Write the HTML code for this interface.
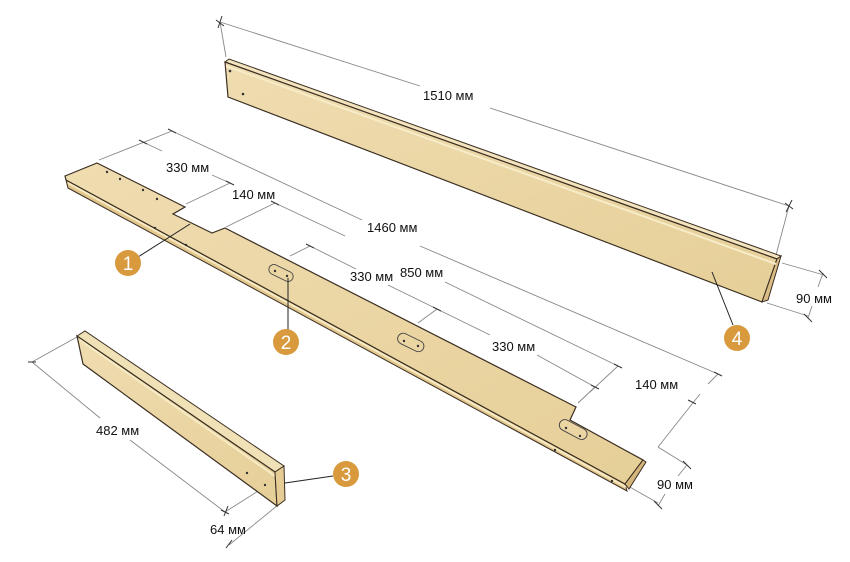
<!DOCTYPE html>
<html><head><meta charset="utf-8"><style>
html,body{margin:0;padding:0;background:#fff;width:850px;height:562px;overflow:hidden}
svg text{font-family:"Liberation Sans",Arial,sans-serif;font-size:13px;fill:#111}
</style></head><body>
<svg width="850" height="562" viewBox="0 0 850 562" xmlns="http://www.w3.org/2000/svg">
<defs>
<linearGradient id="w1" x1="0" y1="0" x2="1" y2="1"><stop offset="0" stop-color="#efdcb0"/><stop offset="1" stop-color="#e6cf98"/></linearGradient>
</defs>
<g stroke="#888" stroke-width="0.9" fill="none">
<line x1="220" y1="22" x2="226" y2="57"/>
<line x1="220" y1="22" x2="420" y2="86"/><line x1="490" y1="108" x2="789" y2="206"/>
<line x1="789" y1="206" x2="776" y2="255"/>
<line x1="782" y1="263" x2="824" y2="275"/><line x1="767" y1="303" x2="808" y2="316"/>
<line x1="823" y1="273" x2="818" y2="287"/><line x1="812" y1="306" x2="808" y2="318"/>
<line x1="99" y1="160" x2="172" y2="131"/>
<line x1="143" y1="142" x2="162" y2="151"/><line x1="212" y1="175" x2="230" y2="183"/>
<line x1="186" y1="204" x2="230" y2="183"/>
<line x1="226" y1="227" x2="275" y2="203"/>
<line x1="172" y1="131" x2="362" y2="220"/><line x1="420" y1="246" x2="718" y2="374"/>
<line x1="275" y1="203" x2="345" y2="236"/><line x1="445" y1="282" x2="618" y2="366"/>
<line x1="310" y1="246" x2="356" y2="269"/><line x1="290" y1="256" x2="310" y2="246"/>
<line x1="388" y1="285" x2="490" y2="335"/><line x1="537" y1="355" x2="595" y2="387"/>
<line x1="418" y1="323" x2="437" y2="309"/>
<line x1="595" y1="387" x2="578" y2="403"/><line x1="618" y1="366" x2="590" y2="392"/>
<line x1="718" y1="374" x2="708" y2="384"/><line x1="700" y1="394" x2="658" y2="447"/>
<line x1="658" y1="447" x2="687" y2="465"/>
<line x1="687" y1="465" x2="678" y2="476"/><line x1="665" y1="494" x2="658" y2="506"/>
<line x1="628" y1="486" x2="658" y2="503"/>
<line x1="32" y1="362" x2="77" y2="337"/>
<line x1="32" y1="362" x2="100" y2="418"/><line x1="130" y1="440" x2="225" y2="512"/>
<line x1="225" y1="512" x2="266" y2="486"/>
<line x1="229" y1="545" x2="278" y2="505"/>
</g>
<g stroke="#333" stroke-width="1">
<line x1="216" y1="20" x2="224" y2="26"/><line x1="218" y1="28" x2="222" y2="16"/>
<line x1="785" y1="203" x2="793" y2="209"/><line x1="786" y1="212" x2="792" y2="200"/>
<line x1="819" y1="270" x2="827" y2="278"/><line x1="804" y1="314" x2="812" y2="322"/>
<line x1="139" y1="140" x2="147" y2="144"/><line x1="168" y1="129" x2="176" y2="133"/>
<line x1="226" y1="181" x2="234" y2="185"/><line x1="271" y1="201" x2="279" y2="205"/>
<line x1="306" y1="244" x2="314" y2="248"/><line x1="433" y1="307" x2="441" y2="311"/>
<line x1="591" y1="385" x2="599" y2="389"/><line x1="614" y1="364" x2="622" y2="368"/>
<line x1="714" y1="372" x2="722" y2="376"/><line x1="688" y1="400" x2="696" y2="404"/>
<line x1="683" y1="461" x2="691" y2="469"/><line x1="654" y1="501" x2="662" y2="509"/>
<line x1="28" y1="362" x2="36" y2="362"/><line x1="221" y1="510" x2="229" y2="514"/>
<line x1="224" y1="516" x2="228" y2="506"/><line x1="226" y1="548" x2="232" y2="540"/>
</g>
<polygon points="225,62 229,59 781,256 777,259" fill="#f3e4bd" stroke="#3a2e22" stroke-width="1"/>
<polygon points="225,62 777,259 762,302 228,97" fill="url(#w1)" stroke="#3a2e22" stroke-width="1.2"/>
<polygon points="777,259 781,256 768,300 762,302" fill="#d9bd85" stroke="#3a2e22" stroke-width="1"/>
<line x1="226" y1="66" x2="776" y2="264" stroke="#f7ecc8" stroke-width="2"/>
<circle cx="230" cy="71" r="1.3" fill="#333"/><circle cx="243" cy="94" r="1.3" fill="#333"/>
<polygon points="66,180 625,484 627,491 68,188" fill="#e2c68d" stroke="#3a2e22" stroke-width="1"/>
<line x1="68" y1="183" x2="626" y2="487" stroke="#f7ebc4" stroke-width="2"/>
<polygon points="65,176 97,163 185,207 173,214 212,233 225,228 576,407 570,420 643,460 625,484 66,180" fill="url(#w1)" stroke="#3a2e22" stroke-width="1.2"/>
<polygon points="643,460 646,462 629,489 625,484" fill="#d4b57c" stroke="#3a2e22" stroke-width="1"/>
<rect x="268" y="268" width="26" height="10" rx="5" transform="rotate(26 281 273)" fill="#ead5a3" stroke="#444" stroke-width="0.9"/>
<rect x="397" y="337" width="28" height="11" rx="5.5" transform="rotate(26 411 342)" fill="#ead5a3" stroke="#444" stroke-width="0.9"/>
<rect x="558" y="424" width="30" height="11" rx="5.5" transform="rotate(28 573 430)" fill="#ead5a3" stroke="#444" stroke-width="0.9"/>
<g fill="#333"><circle cx="107" cy="172" r="1.2"/><circle cx="120" cy="179" r="1.2"/><circle cx="143" cy="190" r="1.2"/><circle cx="157" cy="199" r="1.2"/><circle cx="275" cy="271" r="1.2"/><circle cx="287" cy="276" r="1.2"/><circle cx="404" cy="341" r="1.2"/><circle cx="418" cy="346" r="1.2"/><circle cx="566" cy="428" r="1.2"/><circle cx="580" cy="436" r="1.2"/><circle cx="155" cy="228" r="1.2"/><circle cx="186" cy="245" r="1.2"/><circle cx="555" cy="450" r="1.2"/><circle cx="612" cy="481" r="1.2"/></g>
<polygon points="77,336 85,331 284,466 275,472" fill="#f1e1b6" stroke="#3a2e22" stroke-width="1"/>
<polygon points="77,336 275,472 277,506 83,364" fill="url(#w1)" stroke="#3a2e22" stroke-width="1.2"/>
<line x1="80" y1="340" x2="275" y2="476" stroke="#f7ebc4" stroke-width="2"/>
<polygon points="275,472 284,466 285,500 277,506" fill="#e6cd96" stroke="#3a2e22" stroke-width="1"/>
<circle cx="247" cy="473" r="1.2" fill="#333"/><circle cx="265" cy="485" r="1.2" fill="#333"/>
<text x="423" y="100">1510 мм</text>
<text x="796" y="303">90 мм</text>
<text x="166" y="172">330 мм</text>
<text x="232" y="199">140 мм</text>
<text x="367" y="232">1460 мм</text>
<text x="400" y="277">850 мм</text>
<text x="350" y="281">330 мм</text>
<text x="492" y="351">330 мм</text>
<text x="635" y="389">140 мм</text>
<text x="657" y="489">90 мм</text>
<text x="96" y="435">482 мм</text>
<text x="210" y="534">64 мм</text>
<g stroke="#222" stroke-width="1"><line x1="138" y1="257" x2="190" y2="224"/><line x1="288" y1="330" x2="288" y2="278"/><line x1="333" y1="476" x2="285" y2="483"/><line x1="733" y1="325" x2="712" y2="272"/></g>
<g fill="#d99a3e"><circle cx="128" cy="263" r="13"/><circle cx="286" cy="342" r="13"/><circle cx="346" cy="474" r="13"/><circle cx="737" cy="338" r="13"/></g>
<g text-anchor="middle"><text x="128" y="270" style="font-size:19px;fill:#fff">1</text><text x="286" y="349" style="font-size:19px;fill:#fff">2</text><text x="346" y="481" style="font-size:19px;fill:#fff">3</text><text x="737" y="345" style="font-size:19px;fill:#fff">4</text></g>
</svg>
</body></html>
